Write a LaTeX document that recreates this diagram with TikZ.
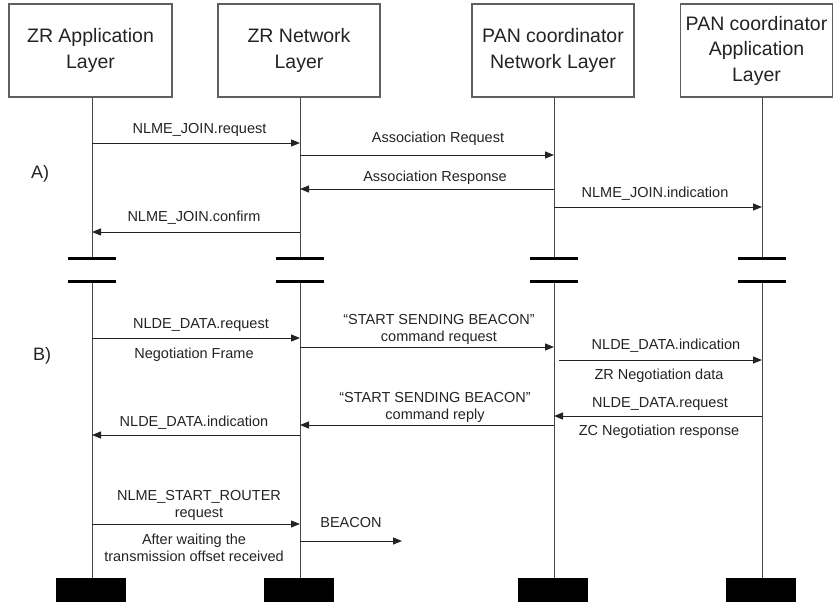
\documentclass[tikz,border=0pt]{standalone}
\usepackage{fontspec}
\setmainfont{Liberation Sans}
\usepackage{xcolor}
\usetikzlibrary{arrows.meta,positioning,calc}
\definecolor{boxgray}{RGB}{95,95,95}
\definecolor{linegray}{RGB}{70,70,70}
\definecolor{inkgray}{RGB}{35,35,35}

\begin{document}
\begin{tikzpicture}[x=1pt, y=-1pt]
    \tikzstyle{layer} = [draw=boxgray, line width=1.2pt, minimum height=93pt, inner sep=0pt, font=\fontsize{19.5}{25.5}\selectfont, align=center, text=inkgray]
    \tikzstyle{lifeline} = [line width=1pt, linegray]
    \tikzstyle{brk} = [line width=3pt, black]
    \tikzstyle{endbar} = [fill=black, minimum width=70pt, minimum height=24pt, inner sep=0pt]
    \tikzstyle{msg} = [line width=1pt, inkgray, -{Triangle[length=9pt,width=7pt]}]
    \tikzstyle{lbl} = [font=\fontsize{14.5}{17}\selectfont, align=center, inner sep=0pt, text=inkgray]

    \useasboundingbox (0,0) rectangle (835,602);

    % layers
    \node[layer, minimum width=163pt] (zrapp) at (90.5,50.5) {ZR Application\\Layer};
    \node[layer, minimum width=162pt] (zrnet) at (299,50.5) {ZR Network\\Layer};
    \node[layer, minimum width=162pt] (pannet) at (553,50.5) {PAN coordinator\\Network Layer};
    \node[layer, minimum width=152pt] (panapp) at (756.5,50.5) {PAN coordinator\\Application\\Layer};

    % lifeline positions
    \coordinate (l1) at (92,0);
    \coordinate (l2) at (300,0);
    \coordinate (l3) at (554,0);
    \coordinate (l4) at (762,0);

    % end bars
    \node[endbar] (e1) at (91,590) {};
    \node[endbar] (e2) at (299,590) {};
    \node[endbar] (e3) at (553,590) {};
    \node[endbar] (e4) at (761,590) {};

    % lifelines with breaks
    \draw[lifeline] (l1 |- zrapp.south) -- (l1 |- 0,258);
    \draw[lifeline] (l2 |- zrnet.south) -- (l2 |- 0,258);
    \draw[lifeline] (l3 |- pannet.south) -- (l3 |- 0,258);
    \draw[lifeline] (l4 |- panapp.south) -- (l4 |- 0,258);
    \draw[lifeline] (l1 |- 0,281) -- (l1 |- e1.north);
    \draw[lifeline] (l2 |- 0,281) -- (l2 |- e2.north);
    \draw[lifeline] (l3 |- 0,281) -- (l3 |- e3.north);
    \draw[lifeline] (l4 |- 0,281) -- (l4 |- e4.north);
    \foreach \l in {l1,l2,l3,l4} {
        \draw[brk] ($(\l |- 0,258)+(-24,0)$) -- ++(48,0);
        \draw[brk] ($(\l |- 0,281)+(-24,0)$) -- ++(48,0);
    }

    % A) joining
    \node[font=\fontsize{18}{20}\selectfont, text=inkgray] (secA) at (40,174) {A)};
    \draw[msg] (l1 |- 0,143) -- (l2 |- 0,143);
    \node[lbl] (joinreq) at (199.5,130) {NLME\_JOIN.request};
    \draw[msg] (l2 |- 0,155) -- (l3 |- 0,155);
    \node[lbl] (assocreq) at (438,139) {Association Request};
    \draw[msg] (l3 |- 0,189) -- (l2 |- 0,189);
    \node[lbl] (assocresp) at (435,178) {Association Response};
    \draw[msg] (l3 |- 0,207) -- (l4 |- 0,207);
    \node[lbl] (joinind) at (655,194) {NLME\_JOIN.indication};
    \draw[msg] (l2 |- 0,232) -- (l1 |- 0,232);
    \node[lbl] (joinconf) at (194,218) {NLME\_JOIN.confirm};

    % B) negotiation
    \node[font=\fontsize{18}{20}\selectfont, text=inkgray] (secB) at (42,356) {B)};
    \draw[msg] (l1 |- 0,338) -- (l2 |- 0,338);
    \node[lbl] (datareq) at (201,325) {NLDE\_DATA.request};
    \node[lbl] (negframe) at (194,355) {Negotiation Frame};
    \draw[msg] (l2 |- 0,347) -- (l3 |- 0,347);
    \node[lbl] (beaconreq) at (439,329.5) {``START SENDING BEACON''\\command request};
    \draw[msg] ($(l3 |- 0,360)+(5,0)$) -- (l4 |- 0,360);
    \node[lbl] (dataind) at (666,346) {NLDE\_DATA.indication};
    \node[lbl] (zrneg) at (659,376) {ZR Negotiation data};
    \draw[msg] (l4 |- 0,416) -- (l3 |- 0,416);
    \node[lbl] (datareqpan) at (660,404) {NLDE\_DATA.request};
    \node[lbl] (zcneg) at (659,432) {ZC Negotiation response};
    \draw[msg] (l3 |- 0,425) -- (l2 |- 0,425);
    \node[lbl] (beaconrep) at (435,407.5) {``START SENDING BEACON''\\command reply};
    \draw[msg] (l2 |- 0,435) -- (l1 |- 0,435);
    \node[lbl] (dataindzr) at (194,423) {NLDE\_DATA.indication};

    % start router and beacon
    \draw[msg] (l1 |- 0,524) -- (l2 |- 0,524);
    \node[lbl] (startrouter) at (199,505.5) {NLME\_START\_ROUTER\\request};
    \node[lbl] (waiting) at (194,547.5) {After waiting the\\transmission offset received};
    \coordinate (beaconend) at (402,541);
    \draw[msg] (l2 |- 0,541) -- (beaconend);
    \node[lbl] (beacon) at (351,523) {BEACON};
\end{tikzpicture}
\end{document}
